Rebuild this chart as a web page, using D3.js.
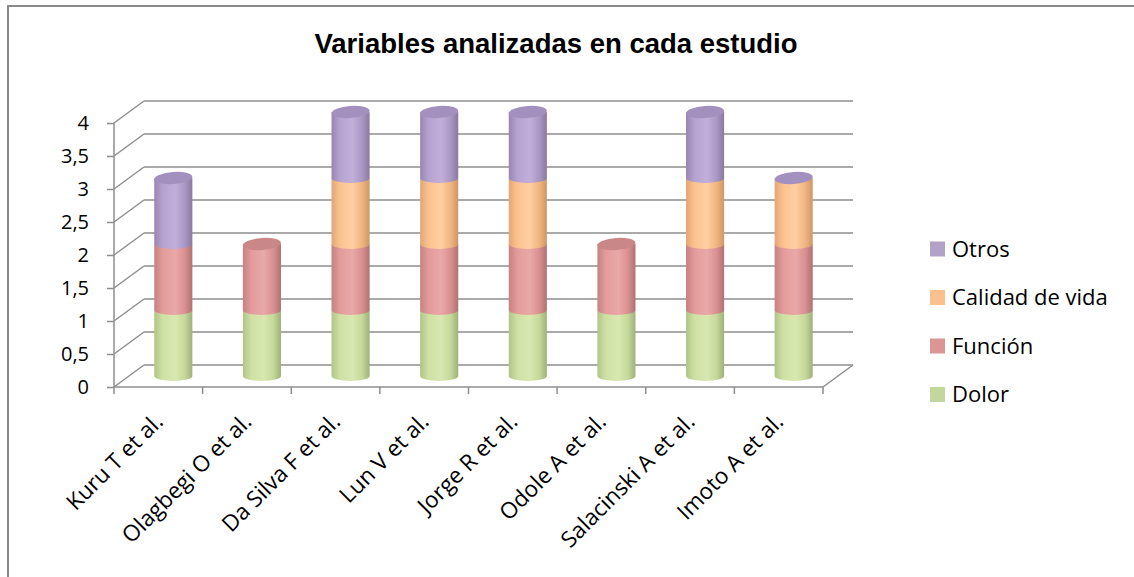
<!DOCTYPE html>
<html>
<head>
<meta charset="utf-8">
<script src="https://cdn.jsdelivr.net/npm/d3@7"></script>
<style>
  body { margin: 0; background: #fff; }
  text { font-family: "Open Sans", Lato, sans-serif; fill: #000; }
</style>
</head>
<body>
<div id="chart"></div>
<script>
// data
var categories = ["Kuru T et al.", "Olagbegi O et al.", "Da Silva F et al.", "Lun V et al.",
                  "Jorge R et al.", "Odole A et al.", "Salacinski A et al.", "Imoto A et al."];
var dolor   = [1, 1, 1, 1, 1, 1, 1, 1];
var funcion = [1, 1, 1, 1, 1, 1, 1, 1];
var calidad = [null, null, 1, 1, 1, null, 1, 1];
var otros   = [1, null, 1, 1, 1, null, 1, 0];
var seriesNames = ["Dolor", "Función", "Calidad de vida", "Otros"];
var yTicks = [0, 0.5, 1, 1.5, 2, 2.5, 3, 3.5, 4];

var W = 1134, H = 577;
var depth = { dx: 30, dy: -22 };

var svg = d3.select("#chart").append("svg")
    .attr("width", W).attr("height", H);

// frame (only top and left are visible in the picture)
svg.append("path")
    .attr("d", "M8,577 L8,6 L1134,6")
    .attr("fill", "none").attr("stroke", "#8a8a8a").attr("stroke-width", 2);

svg.append("text")
    .attr("x", 556).attr("y", 53)
    .attr("text-anchor", "middle")
    .style("font-family", "'Liberation Sans', Arial, sans-serif")
    .style("font-weight", "bold")
    .style("font-size", "27.5px")
    .text("Variables analizadas en cada estudio");

var x = d3.scaleBand().domain(categories).range([114, 823]);
var y = d3.scaleLinear().domain([0, 4]).range([387, 123]);

var grid = svg.append("g").attr("stroke", "#8e8e8e").attr("stroke-width", 1.5).attr("fill", "none");

// back wall gridlines + left side diagonals
yTicks.forEach(function(v){
    grid.append("line")
        .attr("x1", x.range()[0] + depth.dx).attr("x2", x.range()[1] + depth.dx)
        .attr("y1", y(v) + depth.dy).attr("y2", y(v) + depth.dy);
    grid.append("line")
        .attr("x1", x.range()[0]).attr("x2", x.range()[0] + depth.dx)
        .attr("y1", y(v)).attr("y2", y(v) + depth.dy);
});
// floor right edge
grid.append("line")
    .attr("x1", x.range()[1]).attr("x2", x.range()[1] + depth.dx)
    .attr("y1", y(0)).attr("y2", y(0) + depth.dy);

// y axis
var yAxis = svg.append("g")
    .attr("transform", "translate(" + x.range()[0] + ",0)")
    .call(d3.axisLeft(y).tickValues(yTicks).tickSize(7).tickPadding(18)
        .tickFormat(function(d){ return String(d).replace(".", ","); }));
yAxis.selectAll("path, line").attr("stroke", "#8e8e8e").attr("stroke-width", 1.5);
yAxis.select(".domain").attr("d", "M0," + y(0) + "V" + y(4));
yAxis.selectAll("text")
    .style("font-family", "'Open Sans', Lato, sans-serif")
    .style("font-size", "20px").attr("fill", "#000");

// x axis
var xAxis = svg.append("g")
    .attr("transform", "translate(0," + y(0) + ")")
    .call(d3.axisBottom(x).tickSize(0).tickPadding(0));
xAxis.select(".domain").attr("stroke", "#8e8e8e").attr("stroke-width", 1.5)
    .attr("d", "M" + x.range()[0] + ",0H" + x.range()[1]);
xAxis.selectAll(".tick text")
    .attr("text-anchor", "end")
    .attr("y", 0).attr("dy", 0)
    .attr("transform", "translate(6,36) rotate(-45)")
    .style("font-family", "'Open Sans', Lato, sans-serif")
    .style("font-size", "22.5px").attr("fill", "#000");
var bounds = categories.map(function(c){ return x(c); }).concat([x.range()[1]]);
xAxis.selectAll(".bound").data(bounds).enter().append("line")
    .attr("x1", function(d){ return d; }).attr("x2", function(d){ return d; })
    .attr("y1", 0).attr("y2", 7)
    .attr("stroke", "#8e8e8e").attr("stroke-width", 1.5);

// gradients for the cylinder sides
var palette = {
    "Dolor":           { side: ["#b1c487", "#cfe0a5", "#d8e8b0", "#c6d89a", "#9fb07a"], cap: "#bccf92" },
    "Función":         { side: ["#c78181", "#e39b9b", "#eaa8a8", "#d99090", "#b07272"], cap: "#c98787" },
    "Calidad de vida": { side: ["#e3a674", "#fbc290", "#ffcfa2", "#f0b581", "#cf9766"], cap: "#e9b07c" },
    "Otros":           { side: ["#9985b2", "#b6a2cf", "#c1afda", "#ab97c4", "#8a799f"], cap: "#a390bf" }
};
var legendColor = { "Otros": "#b3a2c7", "Calidad de vida": "#fac090", "Función": "#d99694", "Dolor": "#c3d69b" };

var defs = svg.append("defs");
seriesNames.forEach(function(s, i){
    var g = defs.append("linearGradient").attr("id", "grad" + i)
        .attr("x1", "0%").attr("x2", "100%").attr("y1", "0%").attr("y2", "0%");
    [0, 22, 55, 80, 100].forEach(function(o, k){
        g.append("stop").attr("offset", o + "%").attr("stop-color", palette[s].side[k]);
    });
});

// stack the series
var seriesValues = [dolor, funcion, calidad, otros];
var rx = x.bandwidth() * 0.215, ry = 5;
var bars = svg.append("g");

categories.forEach(function(c, ci){
    var cx = x(c) + x.bandwidth() / 2 + depth.dx / 2;
    var off = depth.dy / 2;
    var base = 0, topSeries = -1, topVal = 0;
    var cyl = bars.append("g");
    seriesValues.forEach(function(vals, si){
        var v = vals[ci];
        if (v === null) return;
        var y0 = y(base) + off, y1 = y(base + v) + off;
        if (v > 0) {
            cyl.append("path")
                .attr("d", "M" + (cx - rx) + "," + y1 + "L" + (cx - rx) + "," + y0 +
                    "A" + rx + "," + ry + " 0 0 0 " + (cx + rx) + "," + y0 +
                    "L" + (cx + rx) + "," + y1 + "Z")
                .attr("fill", "url(#grad" + si + ")");
        }
        base += v;
        topSeries = si; topVal = base;
    });
    if (topSeries >= 0) {
        cyl.append("ellipse")
            .attr("cx", cx).attr("cy", y(topVal) + off)
            .attr("rx", rx).attr("ry", ry + 1)
            .attr("transform", "rotate(-4," + cx + "," + (y(topVal) + off) + ")")
            .attr("fill", palette[seriesNames[topSeries]].cap);
    }
});

// legend
var legendOrder = ["Otros", "Calidad de vida", "Función", "Dolor"];
var legend = svg.append("g").selectAll("g").data(legendOrder).enter().append("g")
    .attr("transform", function(d, i){ return "translate(930," + (249 + i * 48.5) + ")"; });
legend.append("rect")
    .attr("x", 0).attr("y", -7.5).attr("width", 15).attr("height", 15)
    .attr("fill", function(d){ return legendColor[d]; });
legend.append("text")
    .attr("x", 22).attr("y", 0).attr("dy", "0.35em")
    .style("font-size", "22px")
    .text(function(d){ return d; });
</script>
</body>
</html>
